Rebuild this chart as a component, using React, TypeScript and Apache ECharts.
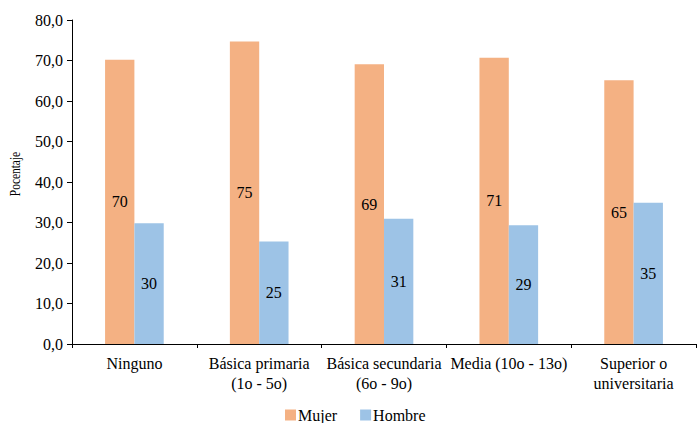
import React, { useEffect, useRef } from "react";
import * as echarts from "echarts";

const categories = [
  "Ninguno",
  "Básica primaria\n(1o - 5o)",
  "Básica secundaria\n(6o - 9o)",
  "Media (10o - 13o)",
  "Superior o\nuniversitaria",
];
const mujer = [70.2, 74.7, 69.1, 70.7, 65.1];
const hombre = [29.8, 25.3, 30.9, 29.3, 34.9];
const yTicks = { min: 0, max: 80, interval: 10 };
const yTitle = "Pocentaje";

const FONT = "Liberation Serif";

export default function App() {
  const ref = useRef<HTMLDivElement>(null);

  useEffect(() => {
    if (!ref.current) return;
    const chart = echarts.init(ref.current, undefined, { renderer: "svg" });
    const barLabel = {
      show: true,
      position: "inside",
      color: "#000",
      fontFamily: FONT,
      fontSize: 16,
      formatter: (p: any) => Math.round(p.value).toString(),
    };
    chart.setOption({
      animation: false,
      textStyle: { fontFamily: FONT },
      grid: { left: 72, right: 1, top: 20, bottom: 79 },
      graphic: [
        {
          type: "text",
          x: 15,
          y: 174,
          rotation: Math.PI / 2,
          scaleX: 0.76,
          style: {
            text: yTitle,
            fontFamily: FONT,
            fontSize: 15,
            fill: "#000",
            align: "center",
            verticalAlign: "middle",
          },
        },
      ],
      legend: {
        data: ["Mujer", "Hombre"],
        top: 402,
        left: 280,
        itemWidth: 11,
        itemHeight: 11,
        itemGap: 23,
        icon: "rect",
        textStyle: {
          fontFamily: FONT,
          fontSize: 16,
          color: "#000",
          padding: [0, 0, 0, -3],
        },
      },
      xAxis: {
        type: "category",
        data: categories,
        axisLine: { lineStyle: { color: "#000", width: 1 } },
        axisTick: { show: true, length: 4, lineStyle: { color: "#000" } },
        axisLabel: {
          interval: 0,
          color: "#000",
          fontFamily: FONT,
          fontSize: 16,
          lineHeight: 20,
          margin: 9,
        },
      },
      yAxis: {
        type: "value",
        min: yTicks.min,
        max: yTicks.max,
        interval: yTicks.interval,
        axisLine: { show: true, lineStyle: { color: "#000", width: 1 } },
        axisTick: { show: true, length: 5, lineStyle: { color: "#000" } },
        splitLine: { show: false },
        axisLabel: {
          color: "#000",
          fontFamily: FONT,
          fontSize: 16,
          margin: 9,
          formatter: (v: number) => v.toFixed(1).replace(".", ","),
        },
      },
      series: [
        {
          name: "Mujer",
          type: "bar",
          data: mujer,
          barWidth: "23.5%",
          barGap: "0%",
          itemStyle: { color: "#F4B183" },
          label: barLabel,
        },
        {
          name: "Hombre",
          type: "bar",
          data: hombre,
          barWidth: "23.5%",
          itemStyle: { color: "#9DC3E6" },
          label: barLabel,
        },
      ],
    });
    return () => chart.dispose();
  }, []);

  return (
    <div
      ref={ref}
      style={{ position: "absolute", left: 0, top: 0, width: 697, height: 423 }}
    />
  );
}
